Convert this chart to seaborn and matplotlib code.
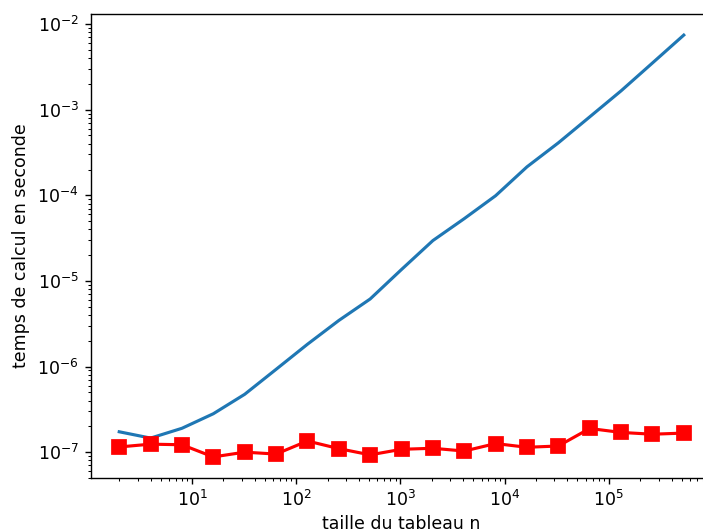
import numpy as np
import pandas as pd
import seaborn as sns
import matplotlib
matplotlib.use("Agg")
import matplotlib.pyplot as plt

# taille du tableau : puissances de 2
tailles = [2, 4, 8, 16, 32, 64, 128, 256, 512, 1024, 2048, 4096, 8192,
           16384, 32768, 65536, 131072, 262144, 524288]

# temps de calcul (s)
temps_lineaire = [1.73e-7, 1.46e-7, 1.90e-7, 2.81e-7, 4.74e-7, 9.27e-7,
                  1.82e-6, 3.45e-6, 6.15e-6, 1.36e-5, 2.96e-5, 5.34e-5,
                  9.89e-5, 2.15e-4, 4.10e-4, 8.24e-4, 1.66e-3, 3.51e-3,
                  7.44e-3]
temps_constant = [1.15e-7, 1.24e-7, 1.22e-7, 0.88e-7, 1.00e-7, 0.95e-7,
                  1.35e-7, 1.10e-7, 0.93e-7, 1.08e-7, 1.11e-7, 1.03e-7,
                  1.26e-7, 1.14e-7, 1.18e-7, 1.89e-7, 1.70e-7, 1.62e-7,
                  1.67e-7]

# graduations principales visibles
xticks = [1e1, 1e2, 1e3, 1e4, 1e5]
yticks = [1e-7, 1e-6, 1e-5, 1e-4, 1e-3, 1e-2]

df = pd.DataFrame({"n": tailles,
                   "lineaire": temps_lineaire,
                   "constant": temps_constant})

fig = plt.figure(figsize=(5.624, 4.256), dpi=125)
ax = fig.add_axes([91 / 703, 54 / 532, 621 / 703, 464 / 532])
ax.set_xscale("log")
ax.set_yscale("log")

sns.lineplot(data=df, x="n", y="lineaire", color="#1f77b4", linewidth=1.8, ax=ax)
sns.lineplot(data=df, x="n", y="constant", color="red", linewidth=1.8,
             marker="s", markersize=7.5, markeredgecolor="red",
             markeredgewidth=1, ax=ax)

ax.set_xticks(xticks)
ax.set_yticks(yticks)

ax.set_xlabel("taille du tableau n", labelpad=2.5)
ax.set_ylabel("temps de calcul en seconde")

fig.savefig("out.png", dpi=125)
